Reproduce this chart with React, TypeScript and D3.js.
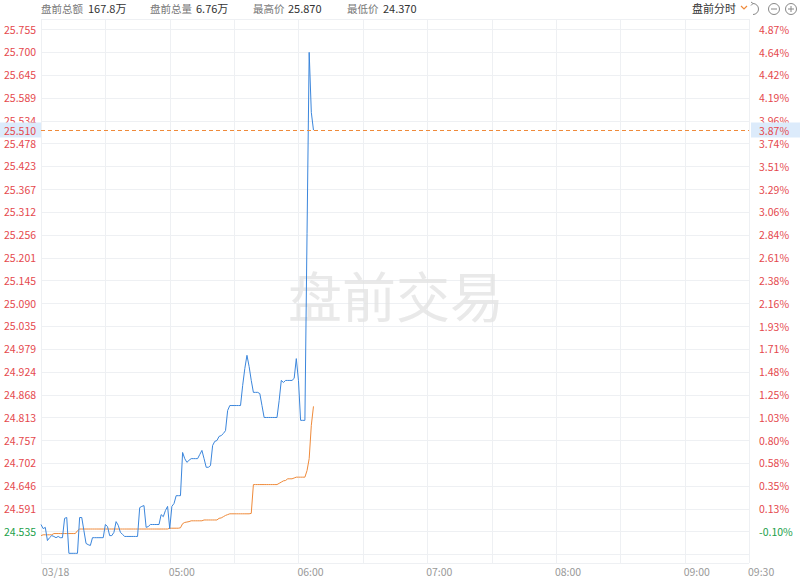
import { useEffect, useRef } from "react";
import * as d3 from "d3";

const WIDTH = 800;
const HEIGHT = 582;
const PLOT = { left: 41, right: 749, top: 19, bottom: 563 };

// price axis, left side (top to bottom)
const priceTicks = [
  "25.755", "25.700", "25.645", "25.589", "25.534", "25.478", "25.423", "25.367",
  "25.312", "25.256", "25.201", "25.145", "25.090", "25.035", "24.979", "24.924",
  "24.868", "24.813", "24.757", "24.702", "24.646", "24.591", "24.535",
];
// percent axis, right side
const pctTicks = [
  "4.87%", "4.64%", "4.42%", "4.19%", "3.96%", "3.74%", "3.51%", "3.29%",
  "3.06%", "2.84%", "2.61%", "2.38%", "2.16%", "1.93%", "1.71%", "1.48%",
  "1.25%", "1.03%", "0.80%", "0.58%", "0.35%", "0.13%", "-0.10%",
];
const PRICE_STEP = 0.05545;

const timeTicks = ["03/18", "05:00", "06:00", "07:00", "08:00", "09:00", "09:30"];
const timeTickMinutes = [0, 60, 120, 180, 240, 300, 330];

const lastPrice = 25.51;
const lastPriceLabel = "25.510";
const lastPctLabel = "3.87%";

// one value per minute from 04:00
const prices = [
  24.552, 24.542, 24.545, 24.513, 24.52, 24.525, 24.523, 24.52, 24.523, 24.52,
  24.52, 24.567, 24.569, 24.482, 24.482, 24.482, 24.482, 24.482, 24.569, 24.569,
  24.537, 24.506, 24.503, 24.501, 24.52, 24.52, 24.52, 24.52, 24.52, 24.52,
  24.552, 24.547, 24.525, 24.525, 24.533, 24.559, 24.55, 24.533, 24.528, 24.523,
  24.523, 24.523, 24.523, 24.523, 24.523, 24.523, 24.593, 24.596, 24.598, 24.545,
  24.547, 24.552, 24.552, 24.552, 24.552, 24.552, 24.576, 24.571, 24.586, 24.596,
  24.542, 24.596, 24.603, 24.622, 24.622, 24.622, 24.727, 24.712, 24.703, 24.708,
  24.712, 24.712, 24.712, 24.712, 24.722, 24.732, 24.712, 24.691, 24.691, 24.695,
  24.744, 24.754, 24.756, 24.766, 24.768, 24.773, 24.78, 24.829, 24.841, 24.841,
  24.841, 24.841, 24.841, 24.841, 24.89, 24.931, 24.963, 24.936, 24.902, 24.873,
  24.873, 24.873, 24.87, 24.841, 24.812, 24.812, 24.812, 24.812, 24.812, 24.812,
  24.812, 24.853, 24.902, 24.897, 24.902, 24.902, 24.902, 24.902, 24.907, 24.955,
  24.902, 24.805, 24.805, 24.805, 25.259, 25.699, 25.553, 25.51,
];

const avgPrices = [
  24.525, 24.527, 24.527, 24.527, 24.527, 24.527, 24.53, 24.53, 24.53, 24.53,
  24.53, 24.53, 24.53, 24.53, 24.53, 24.53, 24.53, 24.537, 24.541, 24.541,
  24.541, 24.541, 24.541, 24.541, 24.541, 24.541, 24.541, 24.541, 24.541, 24.541,
  24.541, 24.541, 24.541, 24.541, 24.541, 24.541, 24.541, 24.541, 24.541, 24.541,
  24.541, 24.541, 24.541, 24.541, 24.541, 24.541, 24.541, 24.541, 24.541, 24.541,
  24.541, 24.541, 24.541, 24.541, 24.541, 24.541, 24.541, 24.541, 24.541, 24.541,
  24.543, 24.543, 24.543, 24.543, 24.543, 24.544, 24.554, 24.557, 24.558, 24.559,
  24.561, 24.561, 24.561, 24.561, 24.561, 24.561, 24.563, 24.563, 24.563, 24.563,
  24.563, 24.563, 24.563, 24.567, 24.568, 24.571, 24.574, 24.576, 24.578, 24.578,
  24.578, 24.578, 24.578, 24.578, 24.578, 24.578, 24.578, 24.578, 24.579, 24.649,
  24.649, 24.649, 24.649, 24.649, 24.649, 24.649, 24.649, 24.649, 24.649, 24.649,
  24.649, 24.652, 24.655, 24.658, 24.659, 24.663, 24.663, 24.663, 24.665, 24.667,
  24.667, 24.667, 24.667, 24.667, 24.683, 24.712, 24.793, 24.839,
];

const headerLabels = ["盘前总额", "盘前总量", "最高价", "最低价"];
const headerValues = ["167.8万", "6.76万", "25.870", "24.370"];

const RED = "#e5484d";
const GREEN = "#21a04a";
const BLUE = "#3b86dc";
const ORANGE = "#ef8a3a";
const GRID = "#eef0f3";
const FONT = "'Noto Sans CJK SC', 'Noto Sans', sans-serif";

export default function App() {
  const svgRef = useRef<SVGSVGElement>(null);

  useEffect(() => {
    document.body.style.margin = "0";
    if (!svgRef.current) return;
    const svg = d3.select(svgRef.current);
    svg.selectAll("*").remove();

    const top = +priceTicks[0];
    const bottom = +priceTicks[priceTicks.length - 1];
    const y = d3.scaleLinear().domain([bottom, top]).range([531.5, 29.3]);
    const x = d3.scaleLinear().domain([0, 330]).range([PLOT.left, PLOT.right]);

    const gridValues = d3.range(priceTicks.length + 1).map((i) => top - i * PRICE_STEP);

    // frame + grid
    const grid = svg.append("g").attr("shape-rendering", "crispEdges");
    grid.selectAll(".hline")
      .data([PLOT.top, ...gridValues.map((v) => y(v)), PLOT.bottom])
      .join("line")
      .attr("x1", PLOT.left)
      .attr("x2", PLOT.right)
      .attr("y1", (d) => Math.round(d) + 0.5)
      .attr("y2", (d) => Math.round(d) + 0.5)
      .attr("stroke", GRID);
    grid.selectAll(".vline")
      .data(d3.range(0, 331, 30))
      .join("line")
      .attr("x1", (d) => Math.round(x(d)) + 0.5)
      .attr("x2", (d) => Math.round(x(d)) + 0.5)
      .attr("y1", PLOT.top)
      .attr("y2", PLOT.bottom)
      .attr("stroke", GRID);

    // watermark
    svg.append("text")
      .attr("x", 396)
      .attr("y", 294)
      .attr("text-anchor", "middle")
      .attr("dominant-baseline", "central")
      .attr("font-family", FONT)
      .attr("font-size", 54)
      .attr("fill", "#e4e4e4")
      .attr("opacity", 0.8)
      .text("盘前交易");

    // left price labels
    svg.append("g")
      .selectAll("text")
      .data(priceTicks)
      .join("text")
      .attr("x", 4)
      .attr("y", (d) => y(+d))
      .attr("dominant-baseline", "central")
      .attr("font-family", FONT)
      .attr("font-size", 10.5)
      .attr("fill", (d) => (+d <= bottom ? GREEN : RED))
      .text((d) => d);

    // right percent labels
    svg.append("g")
      .selectAll("text")
      .data(pctTicks)
      .join("text")
      .attr("x", 759)
      .attr("y", (_, i) => y(gridValues[i]))
      .attr("dominant-baseline", "central")
      .attr("font-family", FONT)
      .attr("font-size", 10.5)
      .attr("fill", (d) => (d.startsWith("-") ? GREEN : RED))
      .text((d) => d);

    // time labels
    svg.append("g")
      .selectAll("text")
      .data(timeTicks)
      .join("text")
      .attr("x", (_, i) => x(timeTickMinutes[i]) + (i === 0 ? 1 : -1))
      .attr("y", 576)
      .attr("font-family", FONT)
      .attr("font-size", 10.5)
      .attr("fill", "#999")
      .text((d) => d);

    // lines
    const line = d3.line<number>()
      .x((_, i) => x(i))
      .y((d) => y(d));

    svg.append("path")
      .datum(avgPrices)
      .attr("d", line)
      .attr("fill", "none")
      .attr("stroke", ORANGE)
      .attr("stroke-width", 1);

    svg.append("path")
      .datum(prices)
      .attr("d", line)
      .attr("fill", "none")
      .attr("stroke", BLUE)
      .attr("stroke-width", 1);

    // last price dashed line
    const ly = Math.round(y(lastPrice)) + 0.5;
    svg.append("line")
      .attr("x1", PLOT.left)
      .attr("x2", PLOT.right)
      .attr("y1", ly)
      .attr("y2", ly)
      .attr("stroke", ORANGE)
      .attr("stroke-dasharray", "4,3");

    svg.append("rect")
      .attr("x", 0).attr("y", ly - 8).attr("width", PLOT.left).attr("height", 15)
      .attr("fill", "#dcebfb");
    svg.append("text")
      .attr("x", 4).attr("y", ly)
      .attr("dominant-baseline", "central")
      .attr("font-family", FONT).attr("font-size", 10.5).attr("fill", RED)
      .text(lastPriceLabel);
    svg.append("rect")
      .attr("x", PLOT.right + 2).attr("y", ly - 8).attr("width", WIDTH - PLOT.right - 2).attr("height", 15)
      .attr("fill", "#dcebfb");
    svg.append("text")
      .attr("x", 759).attr("y", ly)
      .attr("dominant-baseline", "central")
      .attr("font-family", FONT).attr("font-size", 10.5).attr("fill", RED)
      .text(lastPctLabel);

    // header
    const headerX = [41, 150, 253, 347];
    const valueX = [88, 196, 288, 383];
    const header = svg.append("g").attr("font-family", FONT).attr("font-size", 10.5);
    headerLabels.forEach((label, i) => {
      header.append("text").attr("x", headerX[i]).attr("y", 13).attr("fill", "#777").text(label);
      header.append("text").attr("x", valueX[i]).attr("y", 13).attr("fill", "#333")
        .attr("font-size", 11).text(headerValues[i]);
    });
    header.append("text").attr("x", 692).attr("y", 13).attr("fill", "#333").attr("font-size", 11).text("盘前分时");
    header.append("path")
      .attr("d", "M741,6 L744,9 L747,6")
      .attr("fill", "none").attr("stroke", ORANGE).attr("stroke-width", 1.2);

    // toolbar icons
    const icons = svg.append("g").attr("fill", "none").attr("stroke", "#888").attr("stroke-width", 1);
    icons.append("path").attr("d", "M753,3.5 A5.5,5.5 0 1 1 753,14.5");
    icons.append("path").attr("d", "M751,2 L753,3.5 L751,5.5");
    icons.append("circle").attr("cx", 774).attr("cy", 9).attr("r", 5.5);
    icons.append("line").attr("x1", 771).attr("x2", 777).attr("y1", 9).attr("y2", 9);
    icons.append("circle").attr("cx", 791).attr("cy", 9).attr("r", 5.5);
    icons.append("line").attr("x1", 788).attr("x2", 794).attr("y1", 9).attr("y2", 9);
    icons.append("line").attr("x1", 791).attr("x2", 791).attr("y1", 6).attr("y2", 12);
  }, []);

  return (
    <div style={{ position: "absolute", left: 0, top: 0, width: WIDTH, height: HEIGHT, background: "#fff" }}>
      <svg ref={svgRef} width={WIDTH} height={HEIGHT} style={{ display: "block" }} />
    </div>
  );
}
